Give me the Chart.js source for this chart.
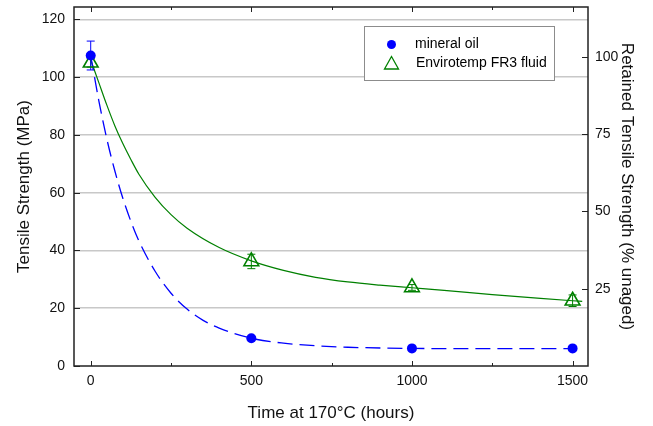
<!DOCTYPE html>
<html>
<head>
<meta charset="utf-8">
<script src="https://cdn.jsdelivr.net/npm/chart.js@4.4.0/dist/chart.umd.min.js"></script>
<style>
	html, body { margin: 0; padding: 0; background: #fff; }
	#wrap { width: 653px; height: 426px; }
</style>
</head>
<body>
<div id="wrap"><canvas id="graphe"></canvas></div>
<script>
'use strict';

// measured points
var hours = [0, 500, 1000, 1500];
var mineralOil = [107.5, 9.6, 6.1, 6.1];
var mineralOilErr = [5, 0, 0, 0];
var fr3 = [105, 36.2, 27.2, 22.6];
var fr3Err = [1.5, 2.5, 1, 2];

// fitted curves
var fitHoursOil = [0, 25, 50, 75, 100, 125, 150, 200, 250, 300, 350, 400, 500, 600, 700, 800, 1000, 1250, 1500];
var fitOil = [107.5, 92, 78.7, 67.6, 58.1, 50.1, 43.3, 32.9, 25.2, 19.7, 15.8, 13.1, 9.6, 7.9, 7.0, 6.5, 6.1, 6.0, 6.0];
var fitHoursFr3 = [0, 25, 50, 75, 100, 125, 150, 200, 250, 300, 400, 500, 600, 700, 800, 900, 1000, 1100, 1250, 1400, 1500, 1530];
var fitFr3 = [106, 98.2, 90.4, 83.2, 77.0, 71.5, 66.4, 58.5, 52.4, 47.7, 41.0, 36.4, 33.1, 30.7, 29.1, 28.0, 27.1, 26.2, 24.7, 23.4, 22.6, 22.4];

// axes
var xTicks = [0, 500, 1000, 1500];
var xMinor = [250, 750, 1250];
var yTicks = [0, 20, 40, 60, 80, 100, 120];
var pctTicks = [25, 50, 75, 100];
var unaged = 107; // MPa = 100 %
var yMax = 124.3;

var police = "'Liberation Sans', Arial, sans-serif";
var bleu = '#0000ff';
var vert = '#008000';

function pts(xs, ys) {
	var out = [];
	xs.forEach(function (x, i) { out.push({ x: x, y: ys[i] }); });
	return out;
}

function fixe(list) {
	return function (s) { s.ticks = list.map(function (v) { return { value: v }; }); };
}

function sansPadding(s) {
	s.paddingTop = 0;
	s.paddingBottom = 0;
	s.paddingLeft = 0;
	s.paddingRight = 0;
}

var cadre = {
	id: 'cadre',
	beforeDatasetsDraw: function (chart) {
		var ctx = chart.ctx;
		var sx = chart.scales.x, sy = chart.scales.y;
		ctx.save();
		ctx.lineWidth = 1;
		function barres(vals, errs, col) {
			ctx.strokeStyle = col;
			hours.forEach(function (h, i) {
				if (!errs[i]) return;
				var px = sx.getPixelForValue(h);
				var top = sy.getPixelForValue(vals[i] + errs[i]);
				var bot = sy.getPixelForValue(vals[i] - errs[i]);
				ctx.beginPath();
				ctx.moveTo(px, top); ctx.lineTo(px, bot);
				ctx.moveTo(px - 4, top); ctx.lineTo(px + 4, top);
				ctx.moveTo(px - 4, bot); ctx.lineTo(px + 4, bot);
				ctx.stroke();
			});
		}
		barres(fr3, fr3Err, vert);
		barres(mineralOil, mineralOilErr, bleu);
		ctx.restore();
	},
	afterDraw: function (chart) {
		var ctx = chart.ctx;
		var a = chart.chartArea;
		var sx = chart.scales.x, sy = chart.scales.y, sy2 = chart.scales.y2;
		ctx.save();
		ctx.strokeStyle = '#222';
		ctx.lineWidth = 1;
		ctx.beginPath();
		xTicks.forEach(function (v) {
			var p = Math.round(sx.getPixelForValue(v)) + 0.5;
			ctx.moveTo(p, a.bottom); ctx.lineTo(p, a.bottom - 5);
			ctx.moveTo(p, a.top); ctx.lineTo(p, a.top + 5);
		});
		xMinor.forEach(function (v) {
			var p = Math.round(sx.getPixelForValue(v)) + 0.5;
			ctx.moveTo(p, a.bottom); ctx.lineTo(p, a.bottom - 3);
			ctx.moveTo(p, a.top); ctx.lineTo(p, a.top + 3);
		});
		yTicks.forEach(function (v) {
			var p = Math.round(sy.getPixelForValue(v)) + 0.5;
			ctx.moveTo(a.left, p); ctx.lineTo(a.left + 6, p);
		});
		pctTicks.forEach(function (v) {
			var p = Math.round(sy2.getPixelForValue(v)) + 0.5;
			ctx.moveTo(a.right, p); ctx.lineTo(a.right - 6, p);
		});
		ctx.stroke();

		ctx.lineWidth = 1.5;
		ctx.strokeRect(a.left, a.top, a.right - a.left, a.bottom - a.top);

		// legend
		ctx.fillStyle = '#fff';
		ctx.fillRect(364.5, 26.5, 190, 54);
		ctx.strokeStyle = '#8c8c8c';
		ctx.lineWidth = 1;
		ctx.strokeRect(364.5, 26.5, 190, 54);
		ctx.fillStyle = bleu;
		ctx.beginPath();
		ctx.arc(391.5, 44.5, 4.5, 0, Math.PI * 2);
		ctx.fill();
		ctx.strokeStyle = vert;
		ctx.lineWidth = 1.3;
		ctx.beginPath();
		ctx.moveTo(391.5, 56.5); ctx.lineTo(398.5, 69); ctx.lineTo(384.5, 69); ctx.closePath();
		ctx.stroke();
		ctx.fillStyle = '#000';
		ctx.font = '14px ' + police;
		ctx.textBaseline = 'middle';
		ctx.fillText('mineral oil', 415, 44.5);
		ctx.fillText('Envirotemp FR3 fluid', 416, 63.5);
		ctx.restore();
	}
};

var chart = new Chart(document.getElementById('graphe'), {
	type: 'scatter',
	data: {
		datasets: [
			{
				label: 'mineral oil',
				data: pts(hours, mineralOil),
				pointStyle: 'circle',
				pointRadius: 5,
				backgroundColor: bleu,
				borderColor: bleu,
				borderWidth: 0,
				order: 0,
			},
			{
				label: 'Envirotemp FR3 fluid',
				data: pts(hours, fr3),
				pointStyle: 'triangle',
				pointRadius: 8.5,
				backgroundColor: 'rgba(0,0,0,0)',
				borderColor: vert,
				borderWidth: 1.6,
				order: 1,
			},
			{
				label: 'fit oil',
				data: pts(fitHoursOil, fitOil),
				showLine: true,
				pointRadius: 0,
				borderColor: bleu,
				borderWidth: 1.3,
				borderDash: [15, 7],
				cubicInterpolationMode: 'monotone',
				order: 2,
			},
			{
				label: 'fit fr3',
				data: pts(fitHoursFr3, fitFr3),
				showLine: true,
				pointRadius: 0,
				borderColor: vert,
				borderWidth: 1.2,
				cubicInterpolationMode: 'monotone',
				order: 3,
			},
		],
	},
	options: {
		responsive: true,
		maintainAspectRatio: false,
		animation: false,
		layout: { autoPadding: false, padding: { top: 7, left: 0, right: 0, bottom: 0 } },
		plugins: {
			legend: { display: false },
			tooltip: { enabled: false },
		},
		scales: {
			x: {
				type: 'linear',
				min: -52,
				max: 1548,
				afterBuildTicks: fixe(xTicks),
				afterFit: function (s) { s.height = 60; sansPadding(s); },
				grid: { display: false, drawTicks: false },
				border: { display: false },
				ticks: { color: '#111', font: { family: police, size: 14 }, padding: 7, autoSkip: false, maxRotation: 0, callback: function (v) { return String(v); } },
				title: { display: true, text: 'Time at 170°C (hours)', color: '#111', font: { family: police, size: 17 }, padding: { top: 0, bottom: 2 } },
			},
			y: {
				position: 'left',
				min: 0,
				max: yMax,
				afterBuildTicks: fixe(yTicks),
				afterFit: function (s) { s.width = 74; sansPadding(s); },
				grid: {
					drawTicks: false,
					color: function (c) { return c.tick && c.tick.value > 0 ? 'rgb(200,200,200)' : 'rgba(0,0,0,0)'; },
					lineWidth: 1.5,
				},
				border: { display: false },
				ticks: { color: '#111', font: { family: police, size: 14 }, padding: 9, autoSkip: false, callback: function (v) { return String(v); } },
				title: { display: true, text: 'Tensile Strength (MPa)', color: '#111', font: { family: police, size: 17 }, padding: { top: 14, bottom: 0 } },
			},
			y2: {
				position: 'right',
				min: 0,
				max: yMax / unaged * 100,
				afterBuildTicks: fixe(pctTicks),
				afterFit: function (s) { s.width = 65; sansPadding(s); },
				grid: { display: false, drawTicks: false },
				border: { display: false },
				ticks: { color: '#111', font: { family: police, size: 14 }, padding: 7, autoSkip: false, callback: function (v) { return String(v); } },
				title: { display: true, text: 'Retained Tensile Strength (% unaged)', color: '#111', font: { family: police, size: 17 }, padding: { top: 16, bottom: 0 } },
			},
		},
	},
	plugins: [cadre],
});
</script>
</body>
</html>
